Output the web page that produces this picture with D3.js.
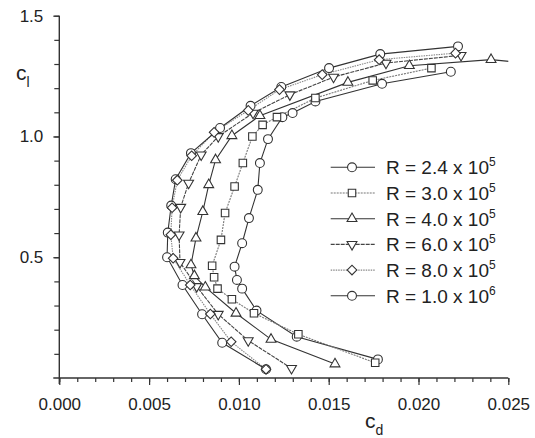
<!DOCTYPE html>
<html>
<head>
<meta charset="utf-8">
<script src="https://cdn.jsdelivr.net/npm/d3@7"></script>
<style>
  body { margin: 0; background: #fff; }
  text { font-family: "Liberation Sans", Arial, sans-serif; fill: #222; }
</style>
</head>
<body>
<script>
  // legend: Reynolds number as mantissa x 10^exp
  var reMant = ["2.4", "3.0", "4.0", "6.0", "8.0", "1.0"];
  var reExp = ["5", "5", "5", "5", "5", "6"];

  var cd24 = [0.01774, 0.01322, 0.01098, 0.01018, 0.00989, 0.00976, 0.01018, 0.01056, 0.01105, 0.01117, 0.01162, 0.01242, 0.01299, 0.01426, 0.01797, 0.0218];
  var cl24 = [0.077, 0.171, 0.279, 0.370, 0.406, 0.461, 0.558, 0.662, 0.779, 0.890, 0.989, 1.080, 1.097, 1.145, 1.218, 1.268];

  var cd30 = [0.01759, 0.01331, 0.01084, 0.00961, 0.00881, 0.00862, 0.00851, 0.009, 0.00923, 0.00976, 0.01022, 0.01075, 0.01132, 0.01212, 0.01426, 0.01745, 0.02072];
  var cl30 = [0.063, 0.181, 0.268, 0.326, 0.370, 0.417, 0.465, 0.572, 0.683, 0.793, 0.890, 1.000, 1.048, 1.080, 1.159, 1.232, 1.283];

  var cd40 = [0.01535, 0.01179, 0.00984, 0.00813, 0.00752, 0.00733, 0.00761, 0.00799, 0.00832, 0.0087, 0.00961, 0.01117, 0.01607, 0.01949, 0.02404, 0.0265];
  var cl40 = [0.058, 0.160, 0.268, 0.376, 0.423, 0.468, 0.579, 0.689, 0.800, 0.903, 1.003, 1.086, 1.224, 1.293, 1.318, 1.300];

  var cd60 = [0.01293, 0.01052, 0.00885, 0.00765, 0.00672, 0.00667, 0.00676, 0.0072, 0.0079, 0.00885, 0.01079, 0.01284, 0.01527, 0.01819, 0.02237];
  var cl60 = [0.040, 0.155, 0.264, 0.379, 0.479, 0.593, 0.707, 0.807, 0.924, 1.000, 1.097, 1.173, 1.246, 1.304, 1.336];

  var cd80 = [0.01151, 0.00957, 0.00841, 0.00729, 0.00634, 0.00621, 0.00628, 0.00657, 0.00737, 0.00862, 0.01052, 0.01226, 0.01464, 0.01781, 0.02206];
  var cl80 = [0.036, 0.150, 0.265, 0.385, 0.496, 0.593, 0.705, 0.819, 0.920, 1.017, 1.108, 1.194, 1.256, 1.318, 1.345];

  var cd100 = [0.01151, 0.00907, 0.00795, 0.00686, 0.0060, 0.00604, 0.00623, 0.00648, 0.00733, 0.00895, 0.01065, 0.01236, 0.01502, 0.01787, 0.0222];
  var cl100 = [0.036, 0.146, 0.264, 0.385, 0.500, 0.602, 0.714, 0.823, 0.931, 1.035, 1.127, 1.205, 1.283, 1.341, 1.373];

  var xMajor = [0, 0.005, 0.010, 0.015, 0.020, 0.025];
  var yMajor = [0.5, 1.0, 1.5];

  var width = 535, height = 438;
  var padL = 59.3, padR = 508.3, padT = 15.7, padB = 378;

  var svg = d3.select("body")
    .append("svg")
    .attr("width", width)
    .attr("height", height);

  var x = d3.scaleLinear().domain([0, 0.025]).range([padL, padR]);
  var y = d3.scaleLinear().domain([0, 1.5]).range([padB, padT]);

  var axisColor = "#333";

  // minor ticks
  svg.append("g")
    .attr("transform", "translate(0," + padB + ")")
    .call(d3.axisBottom(x).tickValues(d3.range(0, 0.0251, 0.001)).tickSize(4).tickFormat(""))
    .call(function(g){ g.select(".domain").remove(); });
  svg.append("g")
    .attr("transform", "translate(" + padL + ",0)")
    .call(d3.axisLeft(y).tickValues(d3.range(0.1, 1.51, 0.1)).tickSize(5).tickFormat(""))
    .call(function(g){ g.select(".domain").remove(); });

  // major ticks with labels
  var gx = svg.append("g")
    .attr("transform", "translate(0," + padB + ")")
    .call(d3.axisBottom(x).tickValues(xMajor).tickSize(7).tickPadding(13).tickFormat(d3.format(".3f")));
  gx.select(".domain").remove();
  gx.selectAll("text").style("font-size", "17px").attr("fill", "#222")
    .style("font-family", "'Liberation Sans', Arial, sans-serif");

  var gy = svg.append("g")
    .attr("transform", "translate(" + padL + ",0)")
    .call(d3.axisLeft(y).tickValues(yMajor).tickSize(6).tickPadding(10).tickFormat(d3.format(".1f")));
  gy.select(".domain").remove();
  gy.selectAll("text").style("font-size", "17px").attr("fill", "#222")
    .style("font-family", "'Liberation Sans', Arial, sans-serif");

  svg.selectAll(".tick line").attr("stroke", axisColor).attr("stroke-width", 1.2);

  // axis lines
  svg.append("line")
    .attr("x1", padL - 6).attr("x2", padR)
    .attr("y1", padB).attr("y2", padB)
    .attr("stroke", axisColor).attr("stroke-width", 1.4);
  svg.append("line")
    .attr("x1", padL).attr("x2", padL)
    .attr("y1", padT).attr("y2", padB + 6)
    .attr("stroke", axisColor).attr("stroke-width", 1.4);

  // axis titles
  var cl = svg.append("text").attr("x", 16).attr("y", 80).style("font-size", "21px");
  cl.append("tspan").text("c");
  cl.append("tspan").attr("dy", 7).style("font-size", "14px").text("l");

  var cdT = svg.append("text").attr("x", 365).attr("y", 428).style("font-size", "21px");
  cdT.append("tspan").text("c");
  cdT.append("tspan").attr("dy", 7).style("font-size", "14px").text("d");

  // series
  var series = [
    { cd: cd24, cl: cl24, sym: d3.symbolCircle, size: 62, rot: 0, color: "#333", dash: null },
    { cd: cd30, cl: cl30, sym: d3.symbolSquare, size: 56, rot: 0, color: "#777", dash: "2,1" },
    { cd: cd40, cl: cl40, sym: d3.symbolTriangle, size: 42, rot: 0, color: "#333", dash: null },
    { cd: cd60, cl: cl60, sym: d3.symbolTriangle, size: 42, rot: 180, color: "#444", dash: "4,1" },
    { cd: cd80, cl: cl80, sym: d3.symbolSquare, size: 46, rot: 45, color: "#888", dash: "1.5,1" },
    { cd: cd100, cl: cl100, sym: d3.symbolCircle, size: 62, rot: 0, color: "#333", dash: null }
  ];

  svg.append("clipPath").attr("id", "plot")
    .append("rect").attr("x", padL - 10).attr("y", 0)
    .attr("width", padR - padL + 10).attr("height", padB + 10);

  var plot = svg.append("g").attr("clip-path", "url(#plot)");

  var line = d3.line()
    .x(function(d){ return x(d[0]); })
    .y(function(d){ return y(d[1]); });

  series.forEach(function(s){
    var pts = s.cd.map(function(v, i){ return [v, s.cl[i]]; });
    plot.append("path")
      .datum(pts)
      .attr("fill", "none")
      .attr("stroke", s.color)
      .attr("stroke-width", 1.1)
      .attr("stroke-dasharray", s.dash)
      .attr("d", line);
  });

  // diamonds drawn last so they sit on top at the shared bottom point
  [0, 1, 2, 3, 5, 4].forEach(function(k){
    var s = series[k];
    var pts = s.cd.map(function(v, i){ return [v, s.cl[i]]; });
    plot.selectAll(null)
      .data(pts)
      .enter()
      .append("path")
      .attr("d", d3.symbol().type(s.sym).size(s.size))
      .attr("transform", function(d){
        return "translate(" + x(d[0]) + "," + y(d[1]) + ") rotate(" + s.rot + ")";
      })
      .attr("fill", "#fff")
      .attr("stroke", "#333")
      .attr("stroke-width", 1.1);
  });

  // legend
  var legend = svg.append("g");
  series.forEach(function(s, i){
    var ly = 167.3 + i * 25.7;
    legend.append("line")
      .attr("x1", 330.7).attr("x2", 375)
      .attr("y1", ly).attr("y2", ly)
      .attr("stroke", s.color).attr("stroke-width", 1.1)
      .attr("stroke-dasharray", s.dash);
    legend.append("path")
      .attr("d", d3.symbol().type(s.sym).size(s.size))
      .attr("transform", "translate(352," + ly + ") rotate(" + s.rot + ")")
      .attr("fill", "#fff").attr("stroke", "#333").attr("stroke-width", 1.1);
    var t = legend.append("text")
      .attr("x", 386).attr("y", ly + 7)
      .style("font-size", "19px");
    t.append("tspan").text("R = " + reMant[i] + " x 10");
    t.append("tspan").attr("dy", -8).style("font-size", "12px").text(reExp[i]);
  });
</script>
</body>
</html>
